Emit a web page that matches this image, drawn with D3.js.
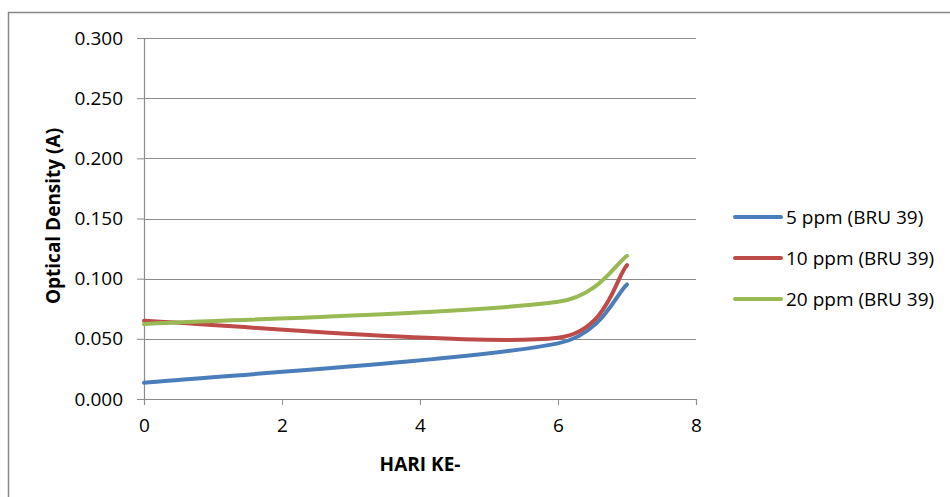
<!DOCTYPE html>
<html>
<head>
<meta charset="utf-8">
<script src="https://cdn.jsdelivr.net/npm/d3@7"></script>
<style>
  body { margin: 0; background: #fff; }
  text { font-family: "Open Sans", "Liberation Sans", sans-serif; fill: #000; }
</style>
</head>
<body>
<div id="chart"></div>
<script>
// hari ke- (day)
let days = [0, 6, 7];
let ppm5 = [0.0135, 0.0462, 0.0952];
let ppm10 = [0.0650, 0.0509, 0.1113];
let ppm20 = [0.0623, 0.0808, 0.1190];

let seriesNames = ['5 ppm (BRU 39)', '10 ppm (BRU 39)', '20 ppm (BRU 39)'];
let seriesColors = ['#4a7ebb', '#be4b48', '#98b954'];
let yTicks = [0, 0.05, 0.10, 0.15, 0.20, 0.25, 0.30];
let xTicks = [0, 2, 4, 6, 8];

let series = [ppm5, ppm10, ppm20].map(function(vals, i){
  return {
    name: seriesNames[i],
    color: seriesColors[i],
    values: days.map(function(d, j){ return { day: d, od: vals[j] }; })
  };
});

// Excel-style smoothed line: bezier with 1/6 tangents, capped at half the segment length
function CurveSmooth(context){ this._context = context; }
CurveSmooth.prototype = {
  areaStart: function(){},
  areaEnd: function(){},
  lineStart: function(){ this._pts = []; },
  point: function(px, py){ this._pts.push([+px, +py]); },
  lineEnd: function(){
    let p = this._pts, c = this._context, n = p.length;
    if (!n) return;
    let dist = function(a, b){ return Math.hypot(b[0] - a[0], b[1] - a[1]); };
    c.moveTo(p[0][0], p[0][1]);
    for (let i = 0; i < n - 1; i++){
      let p0 = p[Math.max(i - 1, 0)], p1 = p[i], p2 = p[i + 1], p3 = p[Math.min(i + 2, n - 1)];
      let d12 = dist(p1, p2), d02 = dist(p0, p2), d13 = dist(p1, p3);
      let f1 = d02 / 6 < d12 / 2 ? 1 / 6 : d12 / (2 * d02);
      let f2 = d13 / 6 < d12 / 2 ? 1 / 6 : d12 / (2 * d13);
      c.bezierCurveTo(
        p1[0] + f1 * (p2[0] - p0[0]), p1[1] + f1 * (p2[1] - p0[1]),
        p2[0] - f2 * (p3[0] - p1[0]), p2[1] - f2 * (p3[1] - p1[1]),
        p2[0], p2[1]);
    }
  }
};
let curveSmooth = function(context){ return new CurveSmooth(context); };

let margin = { top: 38, right: 254, bottom: 98, left: 144 };
let width = 950 - margin.left - margin.right;
let height = 497 - margin.top - margin.bottom;

let svg = d3.select('#chart')
  .append('svg')
  .attr('width', 950)
  .attr('height', 497);

// outer frame of the chart area
svg.append('rect')
  .attr('x', 8.5)
  .attr('y', 12.5)
  .attr('width', 960)
  .attr('height', 500)
  .attr('fill', 'none')
  .attr('stroke', '#868686')
  .attr('stroke-width', 1.5);

let g = svg.append('g')
  .attr('transform', 'translate(' + margin.left + ', ' + margin.top + ')');

let x = d3.scaleLinear()
  .domain([0, 8])
  .range([0, width]);

let y = d3.scaleLinear()
  .domain([0, 0.3])
  .range([height, 0]);

// gridlines
g.selectAll('.grid')
  .data(yTicks.slice(1))
  .enter()
  .append('line')
  .attr('class', 'grid')
  .attr('x1', 0)
  .attr('x2', width)
  .attr('y1', function(d){ return Math.round(y(d)) + 0.5; })
  .attr('y2', function(d){ return Math.round(y(d)) + 0.5; })
  .attr('stroke', '#8c8c8c')
  .attr('stroke-width', 1);

// Y axis
g.append('g')
  .attr('class', 'y axis')
  .call(d3.axisLeft(y).tickValues(yTicks).tickFormat(d3.format('.3f')).tickSize(7).tickPadding(14));

// X axis
g.append('g')
  .attr('class', 'x axis')
  .attr('transform', 'translate(0, ' + height + ')')
  .call(d3.axisBottom(x).tickValues(xTicks).tickFormat(d3.format('d')).tickSize(6).tickPadding(14));

g.selectAll('.axis path, .axis line')
  .attr('stroke', '#8c8c8c');
g.selectAll('.axis .domain')
  .attr('stroke-width', 1.2);
g.selectAll('.axis text')
  .attr('font-size', '19px')
  .attr('font-family', '"Open Sans", sans-serif')
  .attr('fill', '#1a1a1a');

// lines
let line = d3.line()
  .x(function(d){ return x(d.day); })
  .y(function(d){ return y(d.od); })
  .curve(curveSmooth);

g.selectAll('.series')
  .data(series)
  .enter()
  .append('path')
  .attr('class', 'series')
  .attr('d', function(d){ return line(d.values); })
  .attr('fill', 'none')
  .attr('stroke', function(d){ return d.color; })
  .attr('stroke-width', 4)
  .attr('stroke-linecap', 'round');

// axis labels
svg.append('text')
  .attr('transform', 'translate(60, 216) rotate(-90)')
  .attr('text-anchor', 'middle')
  .attr('font-size', '19px')
  .attr('font-weight', 'bold')
  .text('Optical Density (A)');

svg.append('text')
  .attr('x', 420)
  .attr('y', 471)
  .attr('text-anchor', 'middle')
  .attr('font-size', '19px')
  .attr('font-weight', 'bold')
  .text('HARI KE-');

// legend
let legend = svg.selectAll('.legend')
  .data(series)
  .enter()
  .append('g')
  .attr('class', 'legend')
  .attr('transform', function(d, i){ return 'translate(735, ' + (217 + i * 41) + ')'; });

legend.append('line')
  .attr('x1', 0)
  .attr('x2', 46)
  .attr('stroke', function(d){ return d.color; })
  .attr('stroke-width', 4)
  .attr('stroke-linecap', 'round');

legend.append('text')
  .attr('x', 51)
  .attr('y', 7)
  .attr('font-size', '19px')
  .text(function(d){ return d.name; });
</script>
</body>
</html>
